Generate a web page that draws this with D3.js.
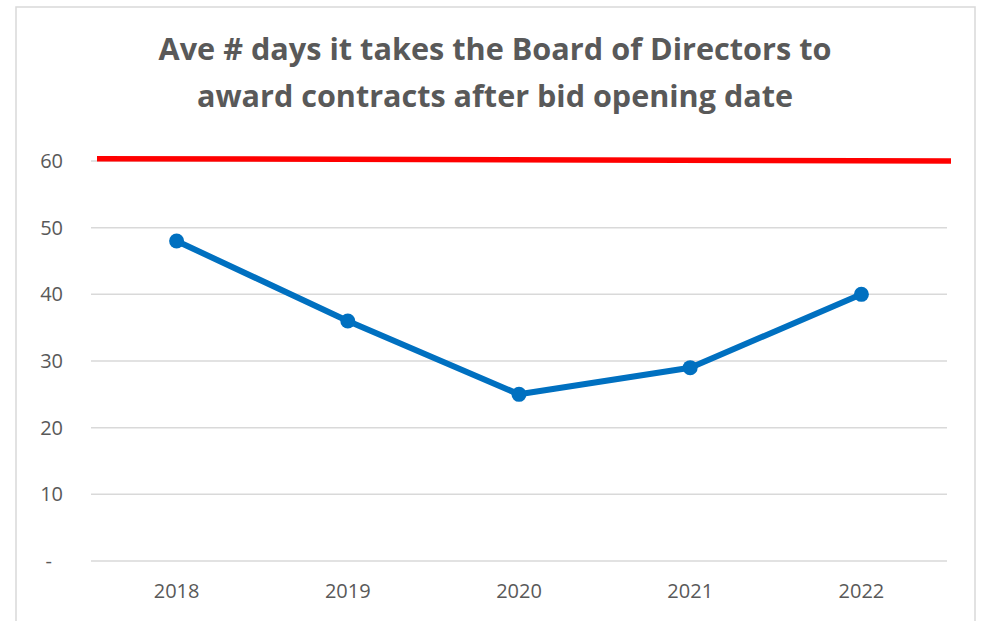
<!DOCTYPE html>
<html>
<head>
<meta charset="utf-8">
<script src="https://cdn.jsdelivr.net/npm/d3@7"></script>
<style>
  body { margin: 0; background: #fff; }
  svg { display: block; }
</style>
</head>
<body>
<div id="chart"></div>
<script>
/* Ave days to award contracts - line chart with target line */

const titleLines = ["Ave # days it takes the Board of Directors to",
                    "award contracts after bid opening date"];
const years = ["2018", "2019", "2020", "2021", "2022"];
const avgDays = [48, 36, 25, 29, 40];
const yTicks = [0, 10, 20, 30, 40, 50, 60];
// hand-drawn target line, slightly tilted in the original
const targetStart = 60.35,
      targetEnd = 60;

const width = 982,
      height = 621,
      margin = ({ top: 161, right: 35, bottom: 60, left: 91 });

const labelFont = "'Open Sans', 'Liberation Sans', sans-serif";

let svg = d3.select("#chart")
            .append("svg")
            .attr("width", width)
            .attr("height", height)
            .attr("viewBox", [0, 0, width, height]);

// chart area border
svg.append("rect")
    .attr("x", 16)
    .attr("y", 7)
    .attr("width", 959)
    .attr("height", 660)
    .attr("fill", "none")
    .attr("stroke", "#d9d9d9")
    .attr("stroke-width", 1.5);

const x = d3.scaleBand()
            .domain(years)
            .range([margin.left, width - margin.right])
            .padding(0);

const y = d3.scaleLinear()
            .domain([0, 60])
            .range([height - margin.bottom, margin.top]);

// gridlines
svg.append("g")
    .selectAll("line")
    .data(yTicks)
    .join("line")
    .attr("x1", x.range()[0])
    .attr("x2", x.range()[1])
    .attr("y1", d => y(d))
    .attr("y2", d => y(d))
    .attr("stroke", "#d9d9d9")
    .attr("stroke-width", 1.5);

const yAxis = g => g
    .attr("transform", `translate(${margin.left - 28},0)`)
    .call(d3.axisLeft(y).tickValues(yTicks).tickSize(0).tickPadding(0)
            .tickFormat(d => d === 0 ? "-" : d))
    .call(g => g.select(".domain").remove())
    .call(g => g.selectAll("text")
        .attr("fill", "#595959")
        .attr("font-size", 20)
        .attr("font-family", labelFont)
        .attr("dx", d => d === 0 ? -11 : 0));

const xAxis = g => g
    .attr("transform", `translate(0,${height - margin.bottom})`)
    .call(d3.axisBottom(x).tickSize(0).tickPadding(23))
    .call(g => g.select(".domain").remove())
    .call(g => g.selectAll("text")
        .attr("fill", "#595959")
        .attr("font-size", 20)
        .attr("font-family", labelFont));

svg.append("g").call(yAxis);
svg.append("g").call(xAxis);

// red target line
svg.append("line")
    .attr("x1", x.range()[0] + 6)
    .attr("x2", x.range()[1] + 4)
    .attr("y1", y(targetStart))
    .attr("y2", y(targetEnd))
    .attr("stroke", "#ff0000")
    .attr("stroke-width", 5.5);

const cx = d => x(d) + x.bandwidth() / 2;

const line = d3.line()
    .x((d, i) => cx(years[i]))
    .y(d => y(d));

svg.append("path")
    .datum(avgDays)
    .attr("d", line)
    .attr("fill", "none")
    .attr("stroke", "#0070c0")
    .attr("stroke-width", 6)
    .attr("stroke-linejoin", "round");

svg.append("g")
    .selectAll("circle")
    .data(avgDays)
    .join("circle")
    .attr("cx", (d, i) => cx(years[i]))
    .attr("cy", d => y(d))
    .attr("r", 7.5)
    .attr("fill", "#0070c0");

// title, fitted to the width of the original lines
const titleWidths = [673, 596];
svg.append("g")
    .selectAll("text")
    .data(titleLines)
    .join("text")
    .attr("x", 495)
    .attr("y", (d, i) => 60 + i * 47)
    .attr("text-anchor", "middle")
    .attr("fill", "#595959")
    .attr("font-size", 30)
    .attr("font-weight", "bold")
    .attr("font-family", labelFont)
    .text(d => d)
    .attr("textLength", (d, i) => titleWidths[i])
    .attr("lengthAdjust", "spacingAndGlyphs");
</script>
</body>
</html>
